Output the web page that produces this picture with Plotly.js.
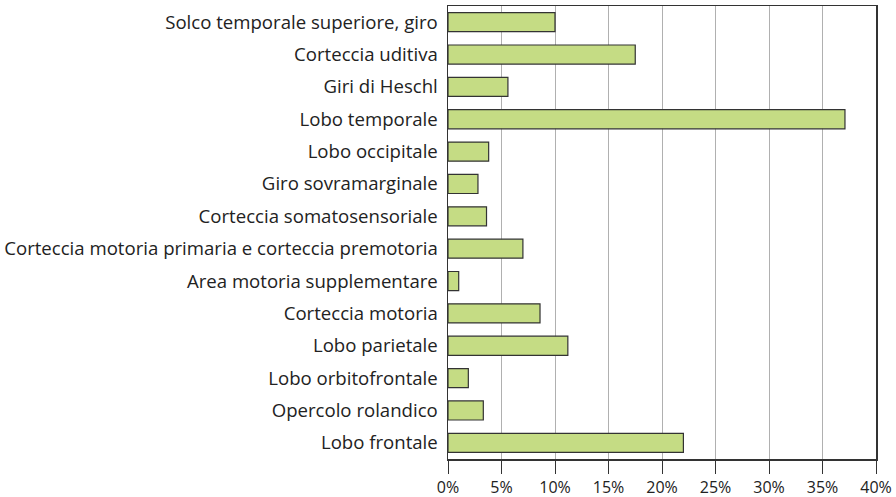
<!DOCTYPE html>
<html><head><meta charset="utf-8">
<script src="https://cdn.plot.ly/plotly-3.0.1.min.js"></script>
<style>html,body{margin:0;padding:0;background:#fff}</style>
</head><body><div id="chart" style="width:896px;height:497px"></div>
<script>
const categories = [
  "Solco temporale superiore, giro",
  "Corteccia uditiva",
  "Giri di Heschl",
  "Lobo temporale",
  "Lobo occipitale",
  "Giro sovramarginale",
  "Corteccia somatosensoriale",
  "Corteccia motoria primaria e corteccia premotoria",
  "Area motoria supplementare",
  "Corteccia motoria",
  "Lobo parietale",
  "Lobo orbitofrontale",
  "Opercolo rolandico",
  "Lobo frontale"
];
const values = [10.0, 17.5, 5.6, 37.1, 3.8, 2.8, 3.6, 7.0, 1.0, 8.6, 11.2, 1.9, 3.3, 22.0];
const tickVals = [0, 5, 10, 15, 20, 25, 30, 35, 40];
const tickLabels = ["0%", "5%", "10%", "15%", "20%", "25%", "30%", "35%", "40%"];

Plotly.newPlot('chart', [{
  type: 'bar', orientation: 'h',
  x: values, y: categories,
  marker: {color: '#c5dc84', line: {color: '#333333', width: 1.2}},
  hoverinfo: 'none'
}], {
  width: 896, height: 497,
  margin: {l: 448, r: 20, t: 6, b: 38},
  paper_bgcolor: '#fff', plot_bgcolor: '#fff',
  bargap: 0.41,
  showlegend: false,
  font: {family: 'Open Sans, sans-serif', size: 15, color: '#222'},
  xaxis: {
    range: [0, 40], tickvals: tickVals, ticktext: tickLabels,
    showgrid: true, gridcolor: '#b0b0b0', gridwidth: 1,
    zeroline: false, showline: true, linecolor: '#333', linewidth: 1.5, mirror: true,
    ticks: 'outside', ticklen: 13, tickcolor: '#333', tickwidth: 1,
    tickfont: {size: 16, color: '#222'}, fixedrange: true
  },
  yaxis: {
    autorange: 'reversed', type: 'category',
    showgrid: false, zeroline: false, showline: true, linecolor: '#333', linewidth: 1.5, mirror: true,
    ticks: '', ticklabelstandoff: 5,
    tickfont: {size: 18.6, color: '#222'}, fixedrange: true
  }
}, {displayModeBar: false, staticPlot: true});
</script></body></html>
